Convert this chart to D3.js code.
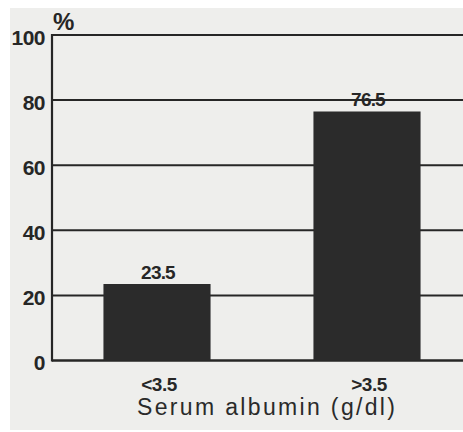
<!DOCTYPE html>
<html><head><meta charset="utf-8">
<script src="https://cdn.jsdelivr.net/npm/d3@7"></script>
<style>html,body{margin:0;padding:0;background:#fff;}svg{display:block;}</style>
</head><body>
<svg id="c" width="463" height="432"></svg>
<script>
const categories = ["<3.5", ">3.5"];
const values = [23.5, 76.5];
const valueLabels = ["23.5", "76.5"];
const yTicks = [0, 20, 40, 60, 80, 100];
const yUnit = "%";
const xTitle = "Serum albumin (g/dl)";

(function () {
const W = 463, H = 432;
const mLeft = 52, mRight = 463, mTop = 35, mBottom = 360.5;
const ink = "#262626";
const svg = d3.select("#c");

svg.append("rect").attr("x", 10).attr("y", 8).attr("width", W - 10).attr("height", H - 10)
  .attr("fill", "#eeeeec");

const y = d3.scaleLinear().domain([0, 100]).range([mBottom, mTop]);
const x = d3.scaleBand().domain(categories).range([mLeft, 472]).paddingInner(0.49).paddingOuter(0.245);

// gridlines
svg.append("g").selectAll("line").data(yTicks).join("line")
  .attr("x1", mLeft).attr("x2", mRight)
  .attr("y1", d => y(d)).attr("y2", d => y(d))
  .attr("stroke", ink).attr("stroke-width", d => d === 0 ? 2.6 : 2);

// y axis line
svg.append("line").attr("x1", mLeft).attr("x2", mLeft)
  .attr("y1", y(100) - 1).attr("y2", y(0) + 1)
  .attr("stroke", ink).attr("stroke-width", 2.2);

// y tick labels
svg.append("g").selectAll("text").data(yTicks).join("text")
  .attr("x", 45).attr("y", d => y(d) + 4)
  .attr("text-anchor", "end").attr("dominant-baseline", "middle")
  .attr("font-family", "Liberation Sans, Arial, sans-serif")
  .attr("font-weight", "bold").attr("font-size", 21).attr("letter-spacing", -0.5)
  .attr("fill", ink).text(d => d);

svg.append("text").attr("x", 53).attr("y", 30)
  .attr("font-family", "Liberation Sans, Arial, sans-serif")
  .attr("font-weight", "bold").attr("font-size", 24).attr("fill", ink).text(yUnit);

// bars
svg.append("g").selectAll("rect").data(values).join("rect")
  .attr("x", (d, i) => x(categories[i]))
  .attr("width", x.bandwidth())
  .attr("y", d => y(d))
  .attr("height", d => y(0) - y(d))
  .attr("fill", "#2b2b2b");

// value labels
svg.append("g").selectAll("text").data(values).join("text")
  .attr("x", (d, i) => x(categories[i]) + x.bandwidth() / 2 + 1)
  .attr("y", d => y(d) - 5)
  .attr("text-anchor", "middle")
  .attr("font-family", "Liberation Sans, Arial, sans-serif")
  .attr("font-weight", "bold").attr("font-size", 19).attr("letter-spacing", -0.8)
  .attr("fill", ink).text((d, i) => valueLabels[i]);

// category labels
svg.append("g").selectAll("text").data(categories).join("text")
  .attr("x", d => x(d) + x.bandwidth() / 2 + 2)
  .attr("y", 391)
  .attr("text-anchor", "middle")
  .attr("font-family", "Liberation Sans, Arial, sans-serif")
  .attr("font-weight", "bold").attr("font-size", 19).attr("letter-spacing", -0.5)
  .attr("fill", ink).text(d => d);

// x title
svg.append("text").attr("x", 266).attr("y", 415)
  .attr("text-anchor", "middle")
  .attr("font-family", "Liberation Sans, Arial, sans-serif")
  .attr("font-size", 23).attr("textLength", 258).attr("lengthAdjust", "spacing")
  .attr("fill", "#2a2a2a").text(xTitle);
})();
</script>
</body></html>
